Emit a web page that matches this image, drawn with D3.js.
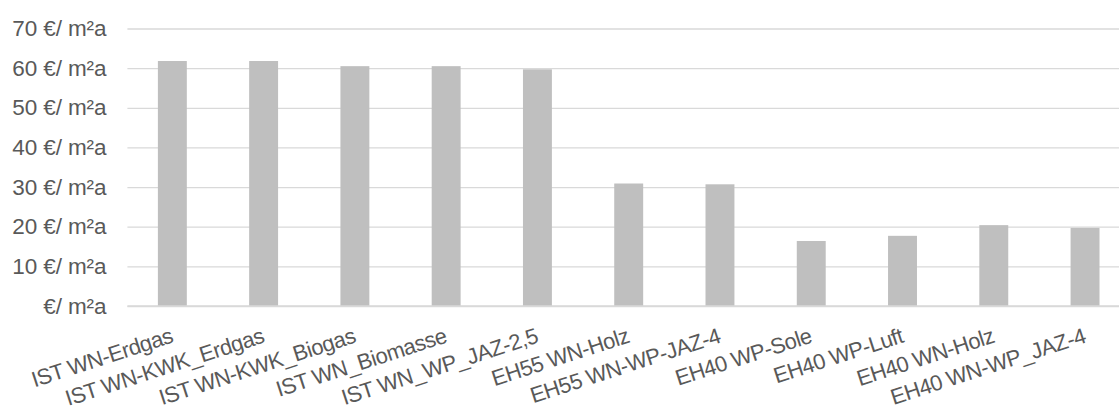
<!DOCTYPE html>
<html><head><meta charset="utf-8">
<script src="https://cdn.jsdelivr.net/npm/d3@7"></script>
<style>
body{margin:0;background:#fff;}
svg text{font-family:"Liberation Sans",Arial,sans-serif;fill:#595959;}
</style></head>
<body><svg id="c" width="1119" height="412"></svg>
<script>
const categories = ["IST WN-Erdgas","IST WN-KWK_Erdgas","IST WN-KWK_Biogas","IST WN_Biomasse","IST WN_WP_JAZ-2,5","EH55 WN-Holz","EH55 WN-WP-JAZ-4","EH40 WP-Sole","EH40 WP-Luft","EH40 WN-Holz","EH40 WN-WP_JAZ-4"];
const values = [61.8, 61.8, 60.5, 60.5, 59.7, 30.9, 30.7, 16.4, 17.7, 20.4, 19.7];
const yTicks = [0,10,20,30,40,50,60,70];
const yTickLabels = ["€/ m²a","10 €/ m²a","20 €/ m²a","30 €/ m²a","40 €/ m²a","50 €/ m²a","60 €/ m²a","70 €/ m²a"];

const svg = d3.select("#c");
const W = 1119, H = 412;
const m = {left:127.4, right:-11, top:28.5, bottom:412-306};
const x = d3.scaleBand().domain(categories).range([m.left, W-m.right]).paddingInner(0.683).paddingOuter(0.334);
const y = d3.scaleLinear().domain([0,70]).range([H-m.bottom, m.top]);

const yAxis = d3.axisLeft(y).tickValues(yTicks).tickSize(-(W-m.left-m.right)).tickFormat((d,i)=>yTickLabels[i]).tickPadding(21);
const gy = svg.append("g").attr("transform",`translate(${m.left},0)`).call(yAxis);
gy.select(".domain").remove();
gy.selectAll(".tick line").attr("stroke","#d9d9d9").attr("stroke-width",1.3);
gy.selectAll(".tick text").attr("font-size","22.5px").attr("letter-spacing","-0.1px").attr("fill","#595959");

svg.append("g").selectAll("rect").data(categories).join("rect")
  .attr("x",d=>x(d)).attr("width",x.bandwidth())
  .attr("y",(d,i)=>y(values[i])).attr("height",(d,i)=>y(0)-y(values[i]))
  .attr("fill","#bfbfbf");

svg.append("line").attr("x1",m.left).attr("x2",W-m.right).attr("y1",y(0)).attr("y2",y(0)).attr("stroke","#d9d9d9").attr("stroke-width",1.3);

const xAxis = d3.axisBottom(x).tickSize(0).tickPadding(0);
const gx = svg.append("g").attr("transform",`translate(0,${y(0)})`).call(xAxis);
gx.select(".domain").remove();
gx.selectAll(".tick text")
  .attr("font-size","22px").attr("letter-spacing","-0.5px")
  .attr("text-anchor","end").attr("dy",null).attr("y",null)
  .attr("transform","translate(2,36) rotate(-18)");
</script></body></html>
